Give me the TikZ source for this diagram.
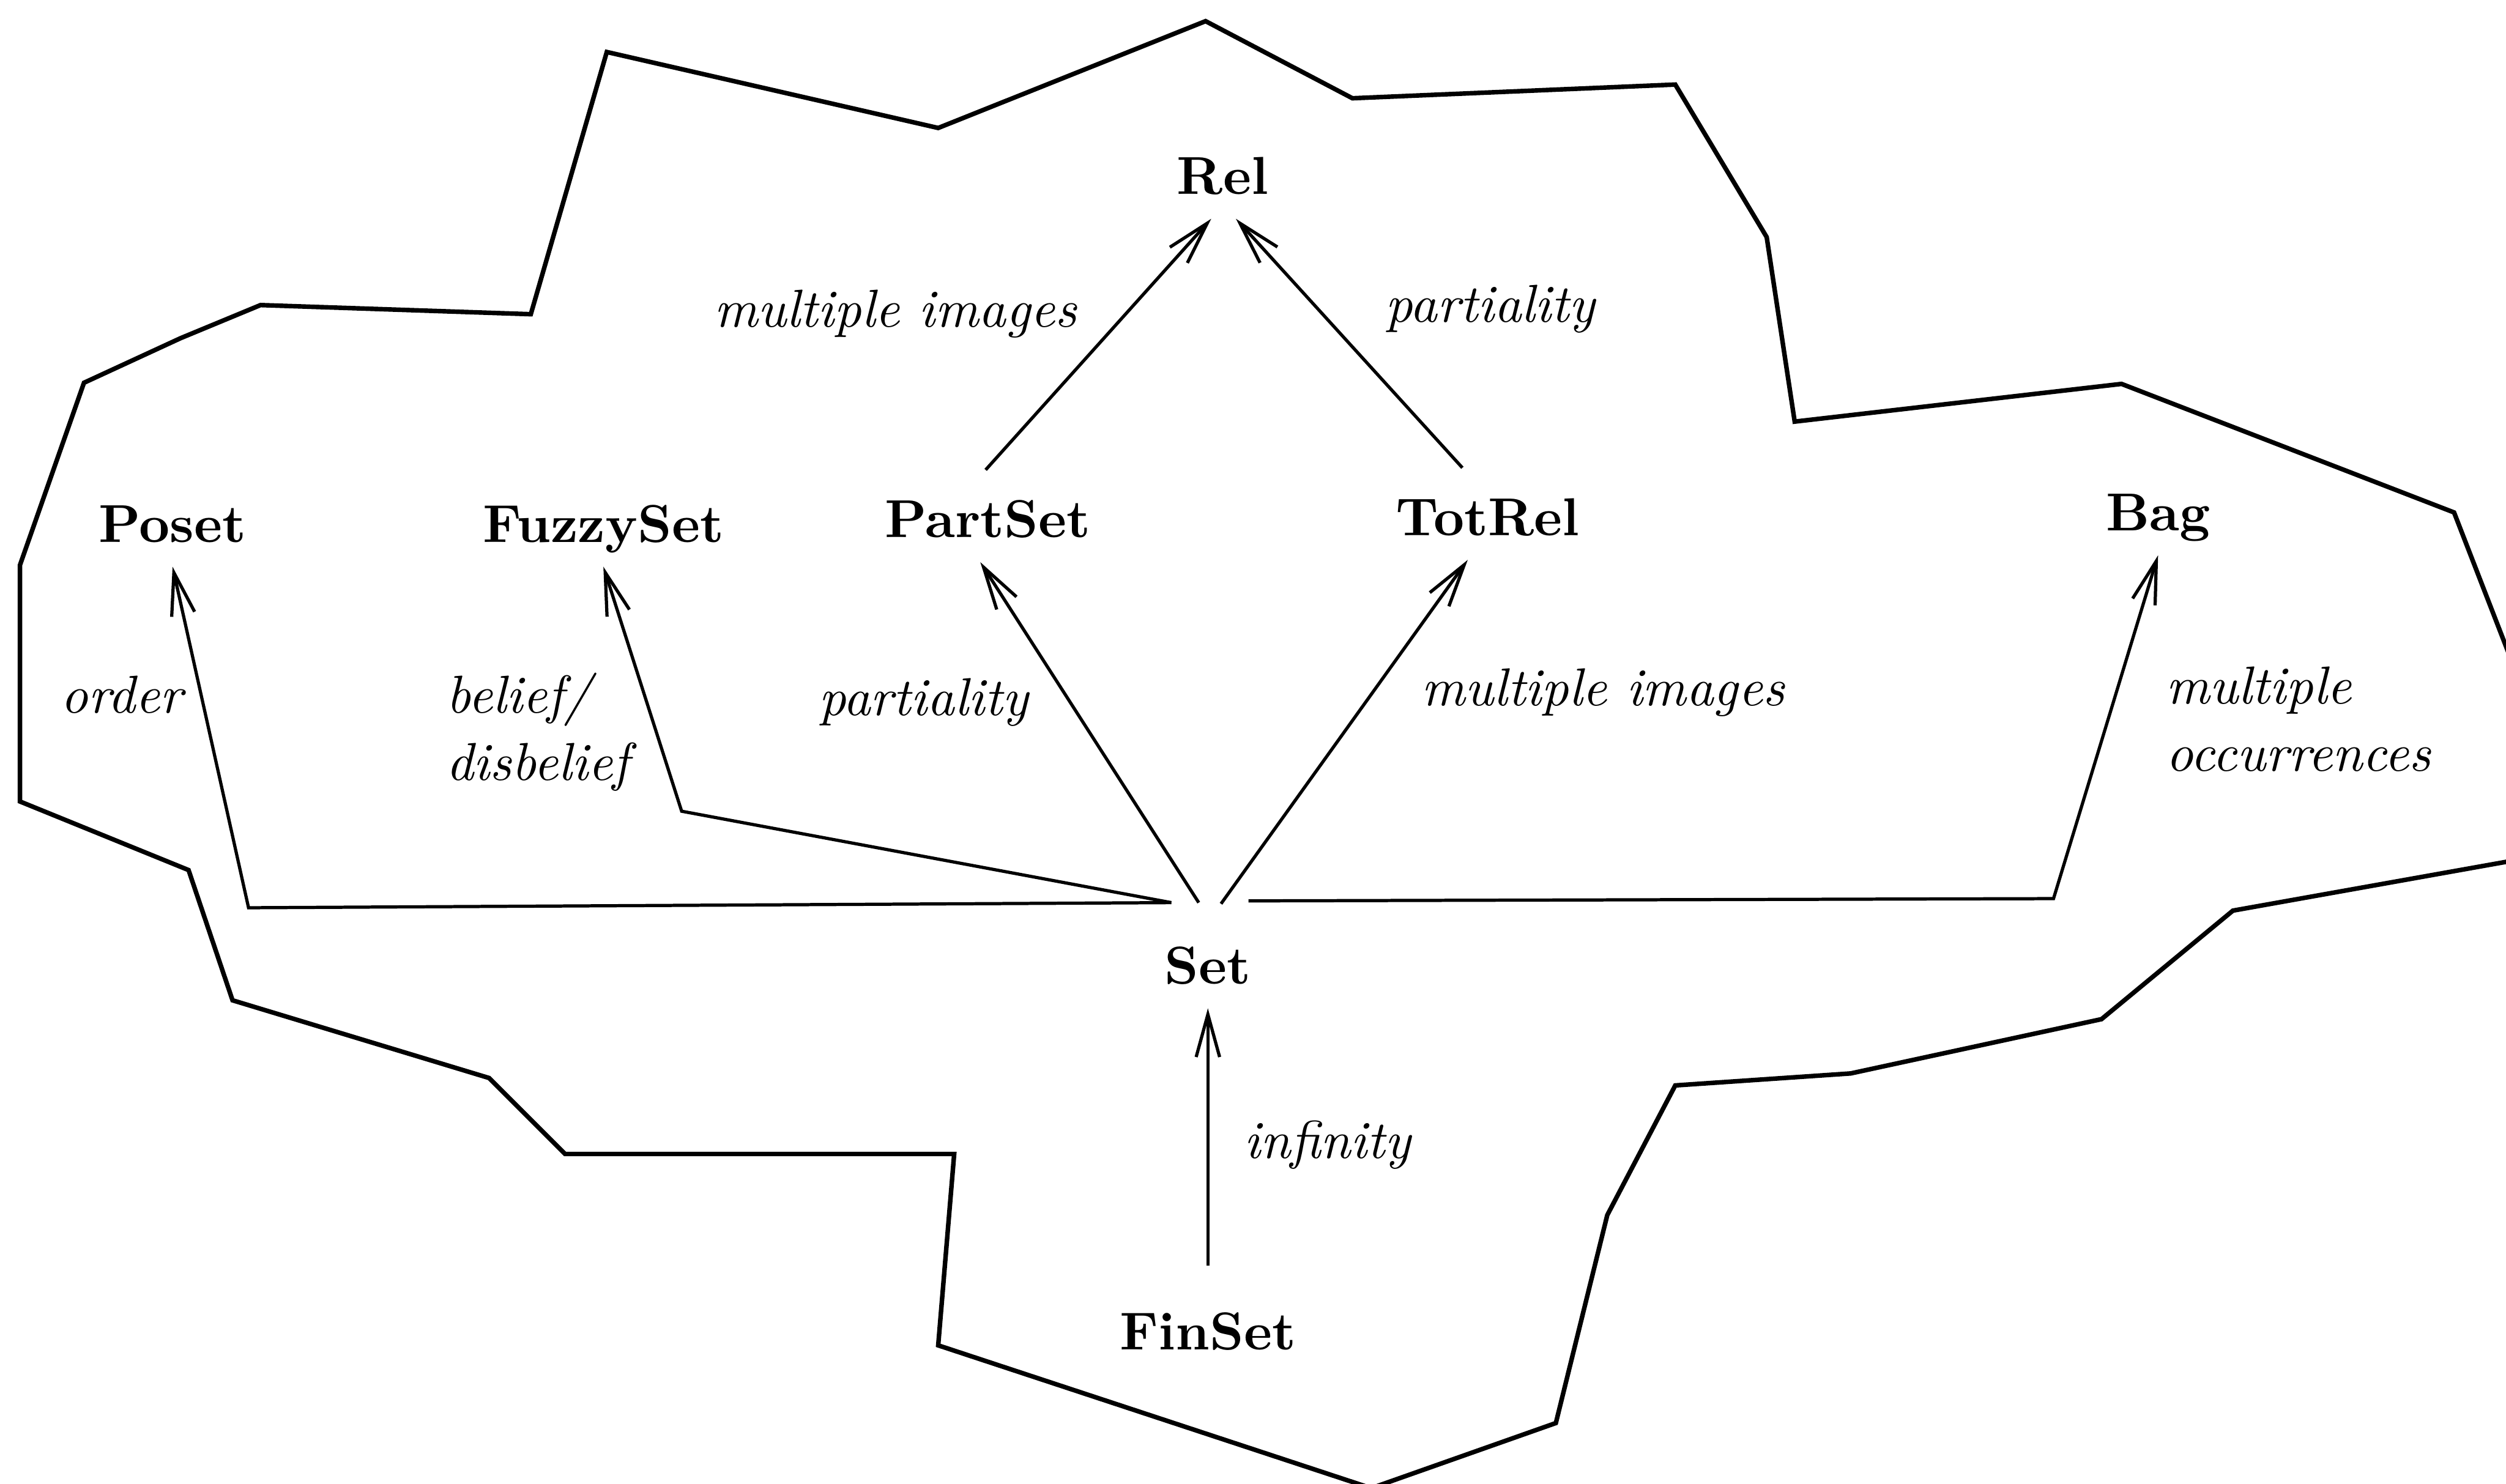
\documentclass[tikz,border=0pt]{standalone}
\usepackage{amsmath}
\usetikzlibrary{arrows.meta, positioning, calc}

\tikzset{
  cat/.style={font=\bfseries, inner sep=4.4pt, text depth=0pt},
  lbl/.style={font=\fontsize{10}{12.6}\selectfont\itshape, align=left, inner sep=0pt},
  arr/.style={line width=0.6pt, -{Straight Barb[length=8pt,width=4.4pt]}},
  outline/.style={line width=0.85pt, line join=miter},
}

\begin{document}
\begin{tikzpicture}[x=0.3761cm, y=-0.3761cm]
  \useasboundingbox (0,0) rectangle (43.86,25.97);

  % Outline of the region
  \begin{scope}
    \clip (0,0) rectangle (43.86,25.97);
    \draw[outline] (21.10,0.37) -- (23.67,1.72) -- (29.32,1.48) -- (30.92,4.15)
      -- (31.41,7.38) -- (37.13,6.72) -- (42.95,8.97) -- (44.40,12.71)
      -- (44.40,14.99) -- (39.08,15.94) -- (36.78,17.84) -- (32.39,18.79)
      -- (29.32,19.00) -- (28.13,21.27) -- (27.23,24.91) -- (24.00,26.05)
      -- (16.42,23.55) -- (16.70,20.20) -- (9.89,20.20) -- (8.56,18.87)
      -- (4.07,17.51) -- (3.30,15.23) -- (0.35,14.03) -- (0.35,9.89)
      -- (1.47,6.70) -- (3.16,5.92) -- (4.56,5.34) -- (9.29,5.50)
      -- (10.62,0.91) -- (16.42,2.24) -- cycle;
  \end{scope}

  % Categories
  \node[cat, anchor=base] (Rel) at (21.40,3.40) {Rel};
  \node[cat, anchor=base] (Poset) at (3.02,9.49) {Poset};
  \node[cat, anchor=base] (FuzzySet) at (10.56,9.49) {FuzzySet};
  \node[cat, anchor=base] (PartSet) at (17.29,9.41) {PartSet};
  \node[cat, anchor=base] (TotRel) at (26.04,9.37) {TotRel};
  \node[cat, anchor=base] (Bag) at (37.77,9.29) {Bag};
  \node[cat, anchor=base] (Set) at (21.14,17.22) {Set};
  \node[cat, anchor=base] (FinSet) at (21.14,23.63) {FinSet};

  % Feet of the arrows leaving Set
  \coordinate (setL) at (20.50,15.80);
  \coordinate (setR) at (21.85,15.77);
  \coordinate (setPS) at (20.98,15.80);
  \coordinate (setTR) at (21.37,15.82);
  \coordinate (posetBend) at (4.35,15.89);
  \coordinate (fuzzyBend) at (11.93,14.20);
  \coordinate (bagBend) at (35.94,15.73);

  % Arrows
  \draw[arr, shorten <=1.5pt] (PartSet.100) -- (Rel.-105);
  \draw[arr, shorten <=1.5pt] (TotRel.115) -- (Rel.-73);
  \draw[arr] (setPS) -- (PartSet.-100);
  \draw[arr] (setTR) -- (TotRel.-115);
  \draw[arr] (setL) -- (posetBend) -- (Poset.south);
  \draw[arr] (setL) -- (fuzzyBend) -- (FuzzySet.south);
  \draw[arr] (setR) -- (bagBend) -- (Bag.south);
  \draw[arr, shorten <=4.2pt] (FinSet.north) -- (Set.south);

  % Labels
  \node[lbl, anchor=base east] (lblMultiUp) at (18.87,5.72) {multiple images};
  \node[lbl, anchor=base west] (lblPartUp) at (24.23,5.64) {partiality};
  \node[lbl, anchor=base west] (lblOrder) at (1.05,12.48) {order};
  \node[lbl, anchor=base west] (lblBelief) at (7.79,13.66) {belief/\\disbelief};
  \node[lbl, anchor=base west] (lblPartLow) at (14.31,12.52) {partiality};
  \node[lbl, anchor=base west] (lblMultiLow) at (24.86,12.35) {multiple images};
  \node[lbl, anchor=base west] (lblOccur) at (37.89,13.50) {multiple\\occurrences};
  \node[lbl, anchor=base west] (lblInf) at (21.76,20.28) {infinity};
\end{tikzpicture}
\end{document}
